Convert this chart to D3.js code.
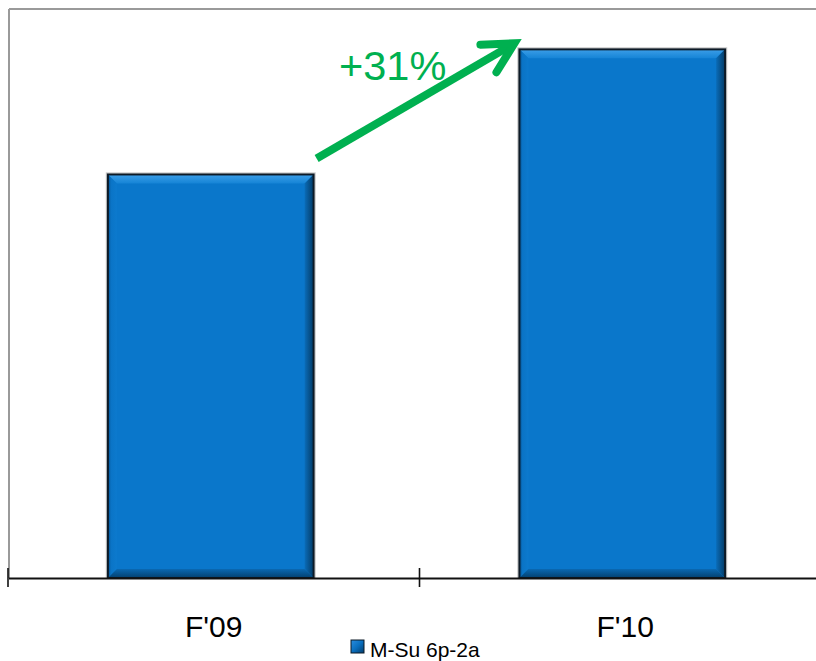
<!DOCTYPE html>
<html>
<head>
<meta charset="utf-8">
<script src="https://cdn.jsdelivr.net/npm/d3@7"></script>
<style>
  html, body { margin: 0; padding: 0; background: #fff; }
  svg { display: block; font-family: "Liberation Sans", Arial, sans-serif; }
</style>
</head>
<body>
<svg id="chart" width="816" height="661"></svg>
<script>
// Fiscal-year volume, indexed to F'09 = 100
const categories = ["F'09", "F'10"];
const values = [100, 131];
const seriesName = "M-Su 6p-2a";
const growthLabel = "+31%";
const yMax = 141;

const svg = d3.select("#chart");
const W = 816, H = 661;
const plot = { left: 9, top: 9, right: 832, bottom: 578 };

const x = d3.scaleBand()
  .domain(categories)
  .range([plot.left - 4, plot.right - 4])
  .paddingInner(0.5)
  .paddingOuter(0.25);

const y = d3.scaleLinear()
  .domain([0, yMax])
  .range([plot.bottom, plot.top]);

// Bevel gradients
const defs = svg.append("defs");
function linGrad(id, x1, y1, x2, y2, stops) {
  const g = defs.append("linearGradient").attr("id", id)
    .attr("x1", x1).attr("y1", y1).attr("x2", x2).attr("y2", y2);
  stops.forEach(([o, c]) => g.append("stop").attr("offset", o).attr("stop-color", c));
}
linGrad("bevTop", 0, 0, 0, 1, [[0, "#3c9ee8"], [1, "#1584d6"]]);
linGrad("bevLeft", 0, 0, 1, 0, [[0, "#05508f"], [0.35, "#0a74c6"], [1, "#0c7ace"]]);
linGrad("bevRight", 0, 0, 1, 0, [[0, "#0a6cb8"], [1, "#033b66"]]);
linGrad("bevBottom", 0, 0, 0, 1, [[0, "#0a68b2"], [1, "#03406e"]]);
linGrad("legendFill", 0, 0, 1, 1, [[0, "#2a8ee0"], [0.5, "#0a6fbf"], [1, "#033c6a"]]);

// Plot frame (top and left)
svg.append("line")
  .attr("x1", plot.left).attr("x2", W)
  .attr("y1", plot.top).attr("y2", plot.top)
  .attr("stroke", "#9a9a9a").attr("stroke-width", 2);
svg.append("line")
  .attr("x1", plot.left).attr("x2", plot.left)
  .attr("y1", plot.top).attr("y2", plot.bottom)
  .attr("stroke", "#9a9a9a").attr("stroke-width", 2);

// Bars with bevelled edges
const bev = 9;
const bars = svg.append("g").selectAll("g.bar")
  .data(categories.map((c, i) => ({ c, v: values[i] })))
  .join("g").attr("class", "bar");

bars.each(function (d) {
  const g = d3.select(this);
  const x0 = x(d.c), x1 = x0 + x.bandwidth();
  const y0 = y(d.v), y1 = y(0);
  // soft halo
  g.append("rect")
    .attr("x", x0 - 1.5).attr("y", y0 - 1.5)
    .attr("width", x1 - x0 + 3).attr("height", y1 - y0 + 1.5)
    .attr("fill", "none").attr("stroke", "#c8c8c8").attr("stroke-width", 1.2);
  g.append("rect")
    .attr("x", x0).attr("y", y0)
    .attr("width", x1 - x0).attr("height", y1 - y0)
    .attr("fill", "#0a77cb");
  const poly = (pts, fill) => g.append("polygon")
    .attr("points", pts.map(p => p.join(",")).join(" "))
    .attr("fill", fill);
  poly([[x0, y0], [x1, y0], [x1 - bev, y0 + bev], [x0 + bev, y0 + bev]], "url(#bevTop)");
  poly([[x0, y0], [x0 + bev, y0 + bev], [x0 + bev, y1 - bev], [x0, y1]], "url(#bevLeft)");
  poly([[x1, y0], [x1, y1], [x1 - bev, y1 - bev], [x1 - bev, y0 + bev]], "url(#bevRight)");
  poly([[x0, y1], [x0 + bev, y1 - bev], [x1 - bev, y1 - bev], [x1, y1]], "url(#bevBottom)");
  g.append("rect")
    .attr("x", x0).attr("y", y0)
    .attr("width", x1 - x0).attr("height", y1 - y0)
    .attr("fill", "none").attr("stroke", "#0d1a26").attr("stroke-width", 2);
});

// Category axis: baseline with ticks between categories
const step = x.step();
const tickXs = categories.map(c => x(c) - step * x.paddingOuter() + 3);
svg.append("line")
  .attr("x1", plot.left).attr("x2", W)
  .attr("y1", plot.bottom + 0.5).attr("y2", plot.bottom + 0.5)
  .attr("stroke", "#111").attr("stroke-width", 2);
svg.append("g").selectAll("line")
  .data(tickXs)
  .join("line")
  .attr("x1", d => d).attr("x2", d => d)
  .attr("y1", plot.bottom - 10).attr("y2", plot.bottom + 9)
  .attr("stroke", "#111").attr("stroke-width", 1.6);

svg.append("g").selectAll("text")
  .data(categories)
  .join("text")
  .attr("x", d => x(d) + x.bandwidth() / 2 + 3)
  .attr("y", 637)
  .attr("text-anchor", "middle")
  .attr("font-size", 30)
  .attr("fill", "#000")
  .text(d => d);

// Growth arrow between the two bar tops
const green = "#00b050";
const ax0 = x(categories[0]) + x.bandwidth() + 3, ay0 = y(values[0]) - 16;
const ax1 = x(categories[1]) - 5, ay1 = y(values[1]) - 6;
const ang = Math.atan2(ay1 - ay0, ax1 - ax0);
const headLen = 34, headAng = 28 * Math.PI / 180;
const back = ang + Math.PI;
const arm = a => [ax1 + headLen * Math.cos(a), ay1 + headLen * Math.sin(a)];
svg.append("line")
  .attr("x1", ax0).attr("y1", ay0)
  .attr("x2", ax1 - 4 * Math.cos(ang)).attr("y2", ay1 - 4 * Math.sin(ang))
  .attr("stroke", green).attr("stroke-width", 8);
svg.append("path")
  .attr("d", d3.line()([arm(back + headAng), [ax1, ay1], arm(back - headAng)]))
  .attr("fill", "none").attr("stroke", green).attr("stroke-width", 8)
  .attr("stroke-linejoin", "miter").attr("stroke-linecap", "round");

svg.append("text")
  .attr("x", 339).attr("y", 80)
  .attr("font-size", 41.5)
  .attr("fill", green)
  .text(growthLabel);

// Legend
svg.append("rect")
  .attr("x", 351).attr("y", 640).attr("width", 13).attr("height", 13)
  .attr("fill", "url(#legendFill)").attr("stroke", "#0d1a26").attr("stroke-width", 1);
svg.append("text")
  .attr("x", 370).attr("y", 657)
  .attr("font-size", 21)
  .attr("fill", "#000")
  .text(seriesName);
</script>
</body>
</html>
